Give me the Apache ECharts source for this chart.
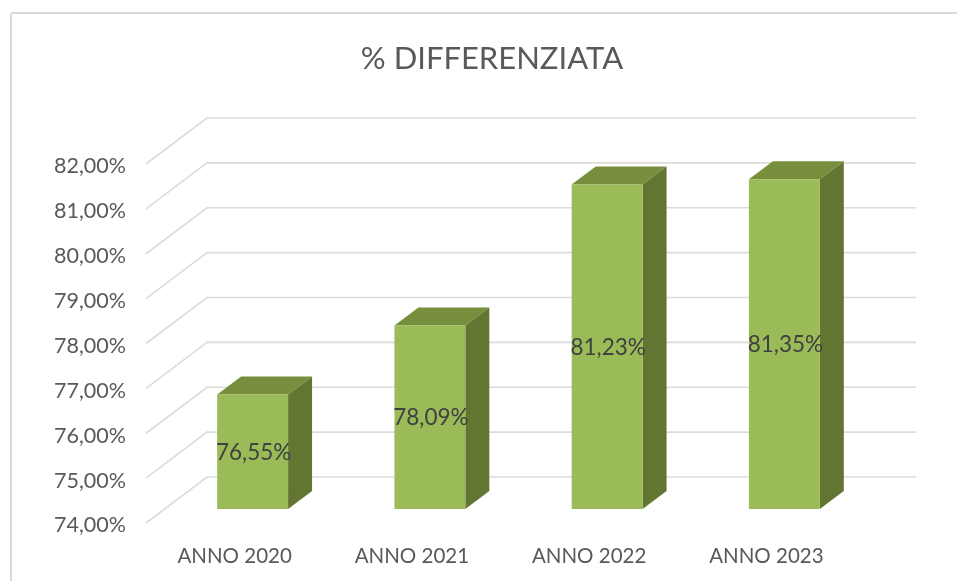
<!DOCTYPE html>
<html>
<head>
<meta charset="utf-8">
<style>
    html, body { margin: 0; padding: 0; background: #fff; }
    #chart { width: 957px; height: 581px; }
</style>
<script src="https://cdn.jsdelivr.net/npm/echarts@6/dist/echarts.min.js"></script>
</head>
<body>
<div id="chart"></div>
<script>
const categories = ['ANNO 2020', 'ANNO 2021', 'ANNO 2022', 'ANNO 2023']
const percentuali = [76.55, 78.09, 81.23, 81.35]
const tickValues = [74, 75, 76, 77, 78, 79, 80, 81, 82]

const fontName = 'Lato'
// profondita della finta prospettiva 3D
const wallDx = 61, wallDy = 46
const barDx = 24, barDy = 18
const floorOffsetX = 18, floorOffsetY = 14

const chart = echarts.init(document.getElementById('chart'))

function formatPct (v) {
    return v.toFixed(2).replace('.', ',') + '%'
}

// griglia: diagonale sul lato sinistro e linea sulla parete di fondo
function renderGrid (params, api) {
    const sys = params.coordSys
    const y = api.coord([0, api.value(0)])[1]
    return {
        type: 'polyline',
        shape: { points: [[sys.x, y], [sys.x + wallDx, y - wallDy], [sys.x + sys.width + wallDx, y - wallDy]] },
        style: { fill: 'none', stroke: '#dcdcdc', lineWidth: 1.6 }
    }
}

// barra: faccia frontale, superiore e laterale
function renderBar (params, api) {
    const idx = api.value(0)
    const val = api.value(1)
    const top = api.coord([idx, val])
    const base = api.coord([idx, 74])
    const w = api.size([1, 0])[0] * 0.4
    const x0 = top[0] - w / 2 + floorOffsetX
    const x1 = x0 + w
    const y0 = top[1] - floorOffsetY
    const y1 = base[1] - floorOffsetY
    return {
        type: 'group',
        children: [
            {
                type: 'polygon',
                shape: { points: [[x0, y0], [x0 + barDx, y0 - barDy], [x1 + barDx, y0 - barDy], [x1, y0]] },
                style: { fill: '#778f3d' }
            },
            {
                type: 'polygon',
                shape: { points: [[x1, y0], [x1 + barDx, y0 - barDy], [x1 + barDx, y1 - barDy], [x1, y1]] },
                style: { fill: '#627632' }
            },
            {
                type: 'rect',
                shape: { x: x0, y: y0, width: w, height: y1 - y0 },
                style: { fill: '#9bbb59' }
            },
            {
                type: 'text',
                style: {
                    text: formatPct(val),
                    x: (x0 + x1) / 2 + 1,
                    y: (y0 + y1) / 2 + 1,
                    align: 'center',
                    verticalAlign: 'middle',
                    fill: '#404040',
                    font: '22.5px ' + fontName
                }
            }
        ]
    }
}

chart.setOption({
    animation: false,
    backgroundColor: '#fff',
    title: {
        text: '% DIFFERENZIATA',
        left: 487,
        top: 38,
        textAlign: 'center',
        textStyle: { fontFamily: fontName, fontSize: 31, fontWeight: 'normal', color: '#595959' }
    },
    grid: { left: 146, right: 102, top: 164, bottom: 58 },
    xAxis: {
        type: 'category',
        data: categories,
        axisLine: { show: false },
        axisTick: { show: false },
        axisLabel: { margin: 23, color: '#595959', fontFamily: fontName, fontSize: 20.5 }
    },
    yAxis: {
        type: 'value',
        min: tickValues[0],
        max: tickValues[tickValues.length - 1],
        interval: 1,
        splitLine: { show: false },
        axisLine: { show: false },
        axisTick: { show: false },
        axisLabel: {
            margin: 20,
            color: '#595959',
            fontFamily: fontName,
            fontSize: 21.5,
            verticalAlign: 'top',
            lineHeight: 5,
            formatter: formatPct
        }
    },
    graphic: [
        { type: 'line', shape: { x1: 11, y1: 13, x2: 957, y2: 13 }, style: { stroke: '#d9d9d9', lineWidth: 2 } },
        { type: 'line', shape: { x1: 11, y1: 13, x2: 11, y2: 581 }, style: { stroke: '#d9d9d9', lineWidth: 2 } }
    ],
    series: [
        {
            type: 'custom',
            name: 'griglia',
            silent: true,
            clip: false,
            z: 1,
            encode: { y: 0 },
            data: tickValues.map(v => [v]),
            renderItem: renderGrid
        },
        {
            type: 'custom',
            name: '% differenziata',
            clip: false,
            z: 2,
            encode: { x: 0, y: 1 },
            data: percentuali.map((v, i) => [i, v]),
            renderItem: renderBar
        }
    ]
})
</script>
</body>
</html>
